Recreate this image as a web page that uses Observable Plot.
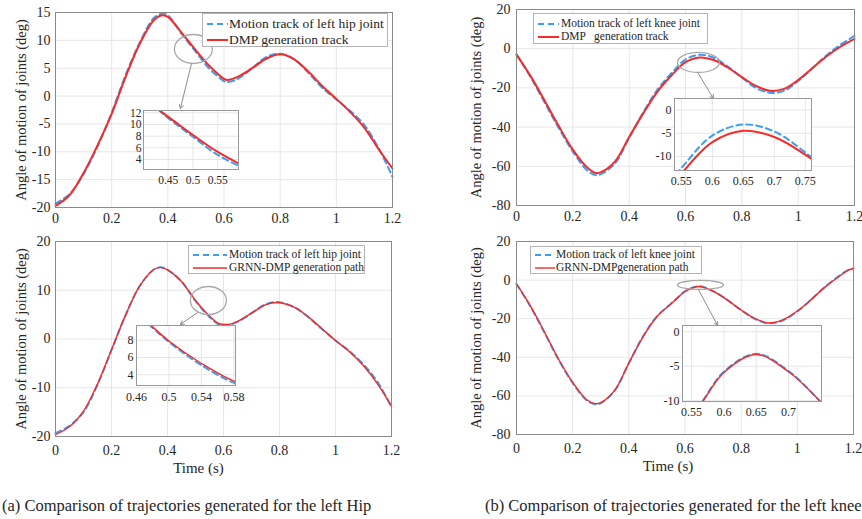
<!DOCTYPE html>
<html>
<head>
<meta charset="utf-8">
<script src="https://cdn.jsdelivr.net/npm/d3@7"></script>
<script src="https://cdn.jsdelivr.net/npm/@observablehq/plot@0.6"></script>
<style>
  html, body { margin: 0; padding: 0; background: #fff; }
  #root { position: relative; width: 862px; height: 519px; overflow: hidden; background: #fff;
          font-family: "Liberation Serif", "Times New Roman", serif; color: #262626; }
  #root svg { font-family: "Liberation Serif", "Times New Roman", serif !important; }
  .legend { position: absolute; border: 1px solid #b5b5b5; background: #fff; box-sizing: border-box; }
  .legend .row { position: absolute; left: 0; white-space: pre; line-height: 1; }
  .caption { position: absolute; font-size: 16.5px; white-space: nowrap; line-height: 1; }
</style>
</head>
<body>
<div id="root"></div>
<script>
// ---------------- DATA ----------------
const timeTicks = [0, 0.2, 0.4, 0.6, 0.8, 1, 1.2];

// (a) top: left hip, DMP
const hipT1 = [0,0.05,0.1,0.15,0.2,0.25,0.3,0.35,0.38,0.4,0.45,0.5,0.55,0.6,0.612,0.65,0.7,0.75,0.8,0.85,0.9,0.95,1.0,1.05,1.1,1.15,1.2];
const hipTrack1 = [-19.3,-17.6,-14.0,-9.0,-3.0,3.8,9.6,14.0,14.8,14.5,11.1,7.9,4.8,2.7,2.5,3.1,5.0,7.0,7.6,6.6,4.2,1.5,-0.6,-2.7,-5.2,-9.3,-14.5];
const hipDMP1   = [-19.7,-17.8,-13.8,-8.8,-3.2,3.5,9.4,13.6,14.5,14.2,11.3,8.2,5.3,3.1,2.9,3.5,5.0,6.7,7.5,6.6,4.4,1.8,-0.5,-2.9,-5.7,-9.5,-13.0];
const hipTicksY1 = [-20,-15,-10,-5,0,5,10,15];

// (a) bottom: left hip, GRNN-DMP
const hipT2 = [0,0.05,0.1,0.15,0.2,0.25,0.3,0.35,0.375,0.4,0.45,0.479,0.5,0.54,0.582,0.6,0.62,0.65,0.7,0.75,0.79,0.85,0.9,0.95,1.0,1.05,1.1,1.15,1.2];
const hipTrack2 = [-19.3,-17.8,-15.0,-9.4,-2.3,4.8,10.8,14.2,14.7,14.2,11.8,9.5,7.8,5.1,3.0,2.8,2.9,3.5,5.3,7.1,7.6,6.6,4.6,2.1,-0.3,-2.5,-5.2,-8.8,-13.9];
const hipGRNN2  = [-19.6,-18.0,-14.8,-9.2,-2.2,4.9,10.8,14.2,14.7,14.2,11.8,9.6,7.9,5.3,3.2,3.0,3.0,3.6,5.3,7.0,7.5,6.6,4.7,2.2,-0.3,-2.6,-5.5,-9.2,-13.8];
const hipTicksY2 = [-20,-10,0,10,20];

// (b) top: left knee, DMP
const kneeT1 = [0,0.05,0.1,0.15,0.2,0.25,0.28,0.3,0.35,0.4,0.45,0.5,0.55,0.6,0.65,0.7,0.75,0.8,0.85,0.9,0.95,1.0,1.05,1.1,1.15,1.2];
const kneeTrack1 = [-3,-14.5,-27.5,-40.5,-52.5,-62,-64.5,-64,-58.5,-45.5,-32.5,-21,-12.5,-5.5,-3.1,-4.6,-9.1,-14.7,-20,-22.5,-21.5,-16.5,-10,-3.5,2,6.5];
const kneeDMP1   = [-3,-14,-26.5,-39.5,-51.5,-60.5,-63.4,-63,-57.5,-45,-33,-22,-13.7,-6.9,-4.45,-5.8,-9.6,-14.5,-19,-21.5,-20.5,-16,-10,-4,1,5];
const kneeTicksY = [-80,-60,-40,-20,0,20];

// (b) bottom: left knee, GRNN-DMP
const kneeT2 = [0,0.05,0.1,0.15,0.2,0.25,0.28,0.3,0.35,0.4,0.45,0.5,0.55,0.568,0.6,0.65,0.7,0.741,0.8,0.85,0.9,0.95,1.0,1.05,1.1,1.15,1.18,1.2];
const kneeTrack2 = [-2,-13.8,-27.3,-41.3,-53.3,-62.3,-64.3,-63.8,-57.2,-43,-29.3,-18.8,-12.2,-9.9,-5.8,-3.2,-5.7,-9.3,-15.6,-20.2,-22.4,-20.8,-16.2,-10,-3.3,2.3,5.2,6];
const kneeGRNN2  = [-2,-13.5,-27,-41,-53,-62,-64,-63.5,-57,-43,-29.5,-19,-12.3,-10,-5.9,-3.3,-5.8,-9.3,-15.5,-20,-22.2,-20.5,-16,-10,-3.5,2,5,6];

// inset ticks
const insetTLx = [0.45, 0.5, 0.55], insetTLy = [4, 6, 8, 10, 12];
const insetTRx = [0.55, 0.6, 0.65, 0.7, 0.75], insetTRy = [-10, -5, 0];
const insetBLx = [0.46, 0.5, 0.54, 0.58], insetBLy = [4, 6, 8];
const insetBRx = [0.55, 0.6, 0.65, 0.7], insetBRy = [-10, -5, 0];

// texts
const yLabel = "Angle of motion of joints (deg)";
const xLabel = "Time (s)";
const legendTL = ["Motion track of left hip joint", "DMP generation track"];
const legendTR = ["Motion track of left knee joint", "DMP   generation track"];
const legendBL = ["Motion track of left hip joint", "GRNN-DMP generation path"];
const legendBR = ["Motion track of left knee joint", "GRNN-DMPgeneration path"];
const captionA = "(a) Comparison of trajectories generated for the left Hip";
const captionB = "(b) Comparison of trajectories generated for the left knee";

// ---------------- STYLE ----------------
const FONT = "Liberation Serif, Times New Roman, serif";
const BLUE = "#3d9df2";
const RED = "#f52a2a";
const GRID = "#e6e6e6";
const FRAME = "#8a8a8a";
const fmt = d => String(d);

function ellipseSymbol(aspect) {
  return {
    draw(ctx, size) {
      const ry = Math.sqrt(size / Math.PI), rx = ry * aspect, k = 0.5523;
      ctx.moveTo(rx, 0);
      ctx.bezierCurveTo(rx, k * ry, k * rx, ry, 0, ry);
      ctx.bezierCurveTo(-k * rx, ry, -rx, k * ry, -rx, 0);
      ctx.bezierCurveTo(-rx, -k * ry, -k * rx, -ry, 0, -ry);
      ctx.bezierCurveTo(k * rx, -ry, rx, -k * ry, rx, 0);
      ctx.closePath();
    }
  };
}

const rowsOf = (t, v) => t.map((d, i) => ({t: d, v: v[i]}));

function mainPanel(o) {
  const track = rowsOf(o.t, o.track), gen = rowsOf(o.t, o.gen);
  const marks = [
    Plot.ruleX(timeTicks, {stroke: GRID}),
    Plot.ruleY(o.yticks, {stroke: GRID}),
    Plot.line(track, {x: "t", y: "v", stroke: BLUE, strokeWidth: o.bw, strokeDasharray: "6,4", curve: "catmull-rom"}),
    Plot.line(gen, {x: "t", y: "v", stroke: RED, strokeWidth: o.rw, curve: "catmull-rom"}),
    Plot.dot([o.ell], {x: "x", y: "y", r: o.ell.ry, symbol: ellipseSymbol(o.ell.rx / o.ell.ry),
                       stroke: "#a8a8a8", strokeWidth: 1.3, fill: "none"}),
    Plot.arrow([o.arr], {x1: "x1", y1: "y1", x2: "x2", y2: "y2", stroke: "#8c8c8c", strokeWidth: 1, headLength: 6}),
    Plot.frame({stroke: FRAME}),
    Plot.text([yLabel], {text: d => d, frameAnchor: "left", textAnchor: "middle", rotate: -90, dx: o.ylabelDx,
                         fontSize: 14.5, fill: "#262626"})
  ];
  if (o.xlabel) marks.push(Plot.text([o.xlabel], {text: d => d, frameAnchor: "bottom", dx: o.xlabelDx, dy: 36,
                                                   fontSize: 15, fill: "#262626"}));
  return Plot.plot({
    width: o.width, height: o.height,
    marginTop: o.mt, marginRight: o.mr, marginBottom: o.mb, marginLeft: o.ml,
    style: {fontFamily: FONT, fontSize: "14px", color: "#262626", background: "transparent", overflow: "visible"},
    x: {domain: [0, 1.2], ticks: timeTicks, tickSize: 0, tickPadding: o.xpad, tickFormat: fmt, label: null},
    y: {domain: o.ydom, ticks: o.yticks, tickSize: 0, tickPadding: o.ypad, tickFormat: fmt, label: null},
    marks
  });
}

function insetPanel(o) {
  const track = rowsOf(o.t, o.track), gen = rowsOf(o.t, o.gen);
  return Plot.plot({
    width: o.width, height: o.height,
    marginTop: o.mt, marginRight: o.mr, marginBottom: o.mb, marginLeft: o.ml,
    style: {fontFamily: FONT, fontSize: o.fs + "px", color: "#262626", background: "transparent", overflow: "visible"},
    x: {domain: o.xdom, ticks: o.xticks, tickSize: 0, tickPadding: o.xpad, tickFormat: fmt, label: null},
    y: {domain: o.ydom, ticks: o.yticks, tickSize: 0, tickPadding: o.ypad, tickFormat: fmt, label: null},
    marks: [
      Plot.frame({fill: "#fff", stroke: "none"}),
      Plot.ruleX(o.xticks, {stroke: GRID}),
      Plot.ruleY(o.yticks, {stroke: GRID}),
      Plot.line(track, {x: "t", y: "v", stroke: BLUE, strokeWidth: o.bw, strokeDasharray: "6,4", curve: "catmull-rom", clip: true}),
      Plot.line(gen, {x: "t", y: "v", stroke: RED, strokeWidth: o.rw, curve: "catmull-rom", clip: true}),
      Plot.frame({stroke: "#9a9a9a"})
    ]
  });
}

const root = document.getElementById("root");
function place(node, left, top) {
  node.style.position = "absolute";
  node.style.left = left + "px";
  node.style.top = top + "px";
  root.appendChild(node);
}

function legend(o) {
  const div = document.createElement("div");
  div.className = "legend";
  Object.assign(div.style, {left: o.left + "px", top: o.top + "px", width: o.width + "px", height: o.height + "px", fontSize: o.fs + "px"});
  const styles = [{stroke: BLUE, dash: "6,4", w: o.bw}, {stroke: RED, dash: null, w: o.rw}];
  o.labels.forEach((label, i) => {
    const s = styles[i];
    const svg = document.createElementNS("http://www.w3.org/2000/svg", "svg");
    svg.setAttribute("width", o.s2 - o.s1);
    svg.setAttribute("height", 6);
    Object.assign(svg.style, {position: "absolute", left: o.s1 + "px", top: (o.rows[i] - 3) + "px"});
    const ln = document.createElementNS("http://www.w3.org/2000/svg", "line");
    ln.setAttribute("x1", 0); ln.setAttribute("x2", o.s2 - o.s1);
    ln.setAttribute("y1", 3); ln.setAttribute("y2", 3);
    ln.setAttribute("stroke", s.stroke); ln.setAttribute("stroke-width", s.w);
    if (s.dash) ln.setAttribute("stroke-dasharray", s.dash);
    svg.appendChild(ln);
    div.appendChild(svg);
    const t = document.createElement("div");
    t.className = "row";
    t.textContent = label;
    Object.assign(t.style, {left: o.tx + "px", top: (o.rows[i] - o.fs * 0.55) + "px"});
    div.appendChild(t);
  });
  root.appendChild(div);
}

// ---------------- PANELS ----------------
// (a) top
place(mainPanel({
  width: 430, height: 230, mt: 12, mr: 38, mb: 23, ml: 55, xpad: 6, ypad: 5, ylabelDx: -34,
  ydom: [-20, 15], yticks: hipTicksY1, t: hipT1, track: hipTrack1, gen: hipDMP1, bw: 2, rw: 2,
  ell: {x: 0.491, y: 8.45, rx: 19, ry: 14.5},
  arr: {x1: 0.484, y1: 5.8, x2: 0.445, y2: -2.2}
}), 0, 0);
place(insetPanel({
  width: 117, height: 80, mt: 1, mr: 2, mb: 20, ml: 20, fs: 11.5, xpad: 6, ypad: 2,
  xdom: [0.4, 0.592], ydom: [2.3, 12.4], xticks: insetTLx, yticks: insetTLy,
  t: hipT1, track: hipTrack1, gen: hipDMP1, bw: 2, rw: 2
}), 123, 109);
legend({left: 202, top: 13, width: 186, height: 34, fs: 13.5, rows: [10, 26], s1: 4, s2: 25, tx: 26,
        labels: legendTL, bw: 2, rw: 2});

// (b) top
place(mainPanel({
  width: 432, height: 230, mt: 9, mr: 8, mb: 25, ml: 86, xpad: 6, ypad: 6, ylabelDx: -40,
  ydom: [-80, 20], yticks: kneeTicksY, t: kneeT1, track: kneeTrack1, gen: kneeDMP1, bw: 2, rw: 2,
  ell: {x: 0.646, y: -7, rx: 21, ry: 10},
  arr: {x1: 0.643, y1: -12.1, x2: 0.699, y2: -25.4}
}), 430, 0);
place(insetPanel({
  width: 159, height: 93, mt: 1, mr: 2, mb: 20, ml: 20, fs: 12, xpad: 6, ypad: 3,
  xdom: [0.539, 0.76], ydom: [-13, 2.5], xticks: insetTRx, yticks: insetTRy,
  t: kneeT1, track: kneeTrack1, gen: kneeDMP1, bw: 2, rw: 2
}), 654, 97);
legend({left: 533, top: 13, width: 175, height: 31, fs: 11.5, rows: [10, 23], s1: 4, s2: 25, tx: 27,
        labels: legendTR, bw: 2, rw: 2});

// (a) bottom
place(mainPanel({
  width: 430, height: 260, mt: 16, mr: 39, mb: 49, ml: 55, xpad: 9, ypad: 5, ylabelDx: -34,
  xlabel: xLabel, xlabelDx: -25,
  ydom: [-20, 20], yticks: hipTicksY2, t: hipT2, track: hipTrack2, gen: hipGRNN2, bw: 2, rw: 1.4,
  ell: {x: 0.546, y: 7.9, rx: 18, ry: 14},
  arr: {x1: 0.507, y1: 5.4, x2: 0.446, y2: 3.0}
}), 0, 225);
place(insetPanel({
  width: 113, height: 81, mt: 1, mr: 2, mb: 20, ml: 12, fs: 12, xpad: 7, ypad: 3,
  xdom: [0.46, 0.582], ydom: [2.75, 9.7], xticks: insetBLx, yticks: insetBLy,
  t: hipT2, track: hipTrack2, gen: hipGRNN2, bw: 2, rw: 1.4
}), 124, 324);
legend({left: 188, top: 245, width: 177, height: 29, fs: 11.5, rows: [9, 22], s1: 4, s2: 38, tx: 40,
        labels: legendBL, bw: 2, rw: 1.4});

// (b) bottom
place(mainPanel({
  width: 432, height: 260, mt: 16, mr: 9, mb: 51, ml: 86, xpad: 9, ypad: 6, ylabelDx: -40,
  xlabel: xLabel, xlabelDx: -17,
  ydom: [-80, 20], yticks: kneeTicksY, t: kneeT2, track: kneeTrack2, gen: kneeGRNN2, bw: 2, rw: 1.4,
  ell: {x: 0.655, y: -2.5, rx: 23, ry: 4.5},
  arr: {x1: 0.648, y1: -4.9, x2: 0.716, y2: -23.5}
}), 430, 225);
place(insetPanel({
  width: 163, height: 97, mt: 1, mr: 2, mb: 20, ml: 22, fs: 12, xpad: 6, ypad: 3,
  xdom: [0.536, 0.751], ydom: [-10.1, 0.9], xticks: insetBRx, yticks: insetBRy,
  t: kneeT2, track: kneeTrack2, gen: kneeGRNN2, bw: 2, rw: 1.4
}), 660, 324);
legend({left: 530, top: 246, width: 172, height: 28, fs: 11.5, rows: [8, 21], s1: 4, s2: 24, tx: 25,
        labels: legendBR, bw: 2, rw: 1.4});

// captions
const ca = document.createElement("div"); ca.className = "caption"; ca.textContent = captionA;
Object.assign(ca.style, {left: "2px", top: "498px"}); root.appendChild(ca);
const cb = document.createElement("div"); cb.className = "caption"; cb.textContent = captionB;
Object.assign(cb.style, {left: "485px", top: "498px"}); root.appendChild(cb);
</script>
</body>
</html>
